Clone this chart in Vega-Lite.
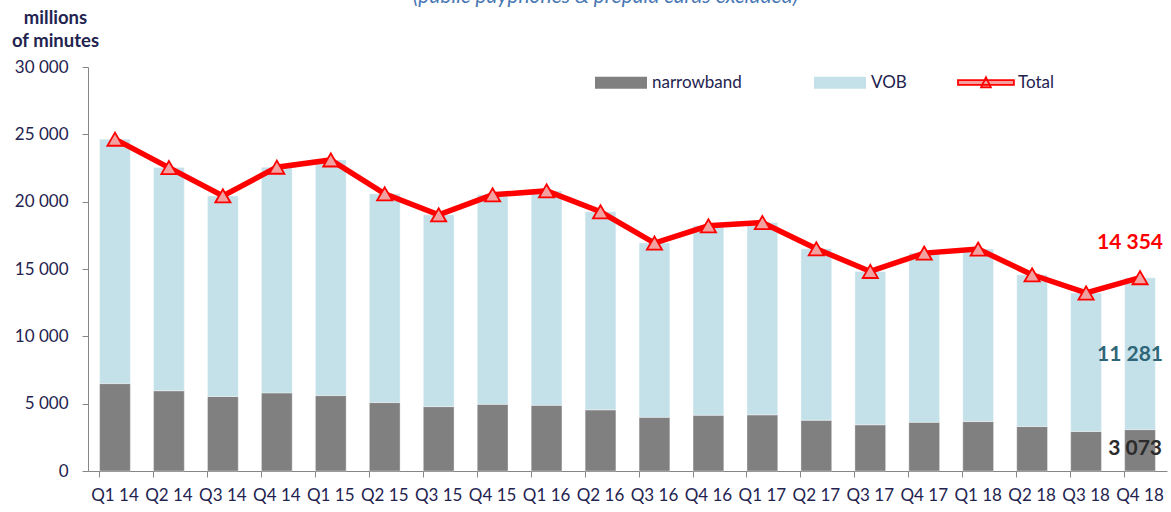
{
  "$schema": "https://vega.github.io/schema/vega-lite/v6.json",
  "width": 1079,
  "height": 404,
  "autosize": {"type": "none"},
  "padding": {"left": 88, "top": 67, "right": 4, "bottom": 41},
  "background": "white",
  "config": {
    "view": {"stroke": null},
    "font": "Lato",
    "locale": {"number": {"decimal": ".", "thousands": " ", "grouping": [3], "currency": ["", ""]}},
    "axis": {"labelFont": "Lato", "titleFont": "Lato"}
  },
  "title": {
    "text": "(public payphones & prepaid cards excluded)",
    "font": "Lato",
    "fontStyle": "italic",
    "fontWeight": "normal",
    "fontSize": 21,
    "color": "#4a78b4",
    "anchor": "middle",
    "dx": -22,
    "dy": 3,
    "offset": 4
  },
  "data": {
    "values": [
      {"q": "Q1 14", "narrowband": 6490, "VOB": 18150, "total": 24640},
      {"q": "Q2 14", "narrowband": 5960, "VOB": 16570, "total": 22530},
      {"q": "Q3 14", "narrowband": 5530, "VOB": 14900, "total": 20430},
      {"q": "Q4 14", "narrowband": 5800, "VOB": 16760, "total": 22560},
      {"q": "Q1 15", "narrowband": 5600, "VOB": 17500, "total": 23100},
      {"q": "Q2 15", "narrowband": 5080, "VOB": 15500, "total": 20580},
      {"q": "Q3 15", "narrowband": 4780, "VOB": 14240, "total": 19020},
      {"q": "Q4 15", "narrowband": 4950, "VOB": 15560, "total": 20510},
      {"q": "Q1 16", "narrowband": 4880, "VOB": 15920, "total": 20800},
      {"q": "Q2 16", "narrowband": 4540, "VOB": 14710, "total": 19250},
      {"q": "Q3 16", "narrowband": 3990, "VOB": 12940, "total": 16930},
      {"q": "Q4 16", "narrowband": 4140, "VOB": 14070, "total": 18210},
      {"q": "Q1 17", "narrowband": 4170, "VOB": 14280, "total": 18450},
      {"q": "Q2 17", "narrowband": 3770, "VOB": 12730, "total": 16500},
      {"q": "Q3 17", "narrowband": 3430, "VOB": 11390, "total": 14820},
      {"q": "Q4 17", "narrowband": 3620, "VOB": 12560, "total": 16180},
      {"q": "Q1 18", "narrowband": 3670, "VOB": 12810, "total": 16480},
      {"q": "Q2 18", "narrowband": 3300, "VOB": 11270, "total": 14570},
      {"q": "Q3 18", "narrowband": 2930, "VOB": 10290, "total": 13220},
      {"q": "Q4 18", "narrowband": 3073, "VOB": 11281, "total": 14354}
    ]
  },
  "layer": [
    {
      "transform": [{"fold": ["narrowband", "VOB"], "as": ["series", "value"]}],
      "mark": {"type": "bar", "stroke": "#ffffff", "strokeWidth": 0.6, "strokeOpacity": 0.6},
      "encoding": {
        "x": {
          "field": "q", "type": "ordinal", "sort": null,
          "scale": {"paddingInner": 0.43, "paddingOuter": 0.215},
          "axis": {
            "title": null, "labelAngle": 0, "labelFontSize": 17, "labelColor": "#23234f",
            "labelPadding": 10, "domainColor": "#868686", "tickColor": "#868686",
            "tickSize": 6, "bandPosition": 0, "grid": false
          }
        },
        "y": {
          "field": "value", "type": "quantitative", "stack": "zero",
          "scale": {"domain": [0, 30000]},
          "axis": {
            "values": [0, 5000, 10000, 15000, 20000, 25000, 30000],
            "format": ",d", "grid": false,
            "domainColor": "#868686", "tickColor": "#868686", "tickSize": 6,
            "labelFontSize": 17, "labelColor": "#23234f", "labelPadding": 14,
            "title": ["millions", "of minutes"], "titleAngle": 0,
            "titleX": -33, "titleY": -59, "titleAlign": "center", "titleBaseline": "top",
            "titleFontSize": 18.5, "titleFontWeight": "bold", "titleColor": "#23234f",
            "titleLineHeight": 23
          }
        },
        "color": {
          "field": "series", "type": "nominal",
          "scale": {"domain": ["narrowband", "VOB"], "range": ["#808080", "#c4e1ea"]},
          "legend": {
            "orient": "none", "legendX": 505, "legendY": 7,
            "direction": "horizontal", "columns": 2, "columnPadding": 70,
            "title": null, "padding": 0, "symbolSize": 169, "labelOffset": 42,
            "symbolType": "M-1,-0.92H7V0.92H-1Z", "symbolStrokeWidth": 0,
            "labelFontSize": 17, "labelColor": "#23234f", "labelFont": "Lato"
          }
        },
        "order": {"field": "series", "sort": "descending"}
      }
    },
    {
      "mark": {"type": "line", "color": "#ff0000", "strokeWidth": 5.5},
      "encoding": {
        "x": {"field": "q", "type": "ordinal", "sort": null},
        "y": {"field": "total", "type": "quantitative"}
      }
    },
    {
      "mark": {"type": "point", "shape": "triangle-up", "filled": true, "stroke": "#ff0000", "strokeWidth": 1.8, "size": 230, "opacity": 1},
      "encoding": {
        "x": {"field": "q", "type": "ordinal", "sort": null},
        "y": {"field": "total", "type": "quantitative"},
        "fill": {
          "datum": "Total",
          "scale": {"domain": ["Total"], "range": ["#f2a0a0"]},
          "legend": {
            "orient": "none", "legendX": 868, "legendY": 7,
            "title": null, "padding": 0, "symbolSize": 169, "labelOffset": 45,
            "symbolType": "M-1,-0.36H7.6V0.36H-1Z M2.55,0.75L3.3,-0.8L4.05,0.75Z",
            "symbolStrokeColor": "#ff0000", "symbolStrokeWidth": 1.8, "symbolOpacity": 1,
            "labelFontSize": 17, "labelColor": "#23234f", "labelFont": "Lato"
          }
        }
      }
    },
    {
      "transform": [{"filter": "datum.q === 'Q4 18'"}],
      "mark": {"type": "text", "align": "right", "baseline": "middle", "dx": 23, "dy": -35, "fontSize": 21, "fontWeight": "bold", "color": "#ff0000", "font": "Lato"},
      "encoding": {
        "x": {"field": "q", "type": "ordinal", "sort": null},
        "y": {"field": "total", "type": "quantitative"},
        "text": {"field": "total", "type": "quantitative", "format": ",d"}
      }
    },
    {
      "transform": [{"filter": "datum.q === 'Q4 18'"}],
      "mark": {"type": "text", "align": "right", "baseline": "middle", "dx": 23, "dy": 36, "fontSize": 21, "fontWeight": "bold", "color": "#2e6677", "font": "Lato"},
      "encoding": {
        "x": {"field": "q", "type": "ordinal", "sort": null},
        "y": {"field": "VOB", "type": "quantitative"},
        "text": {"field": "VOB", "type": "quantitative", "format": ",d"}
      }
    },
    {
      "transform": [{"filter": "datum.q === 'Q4 18'"}],
      "mark": {"type": "text", "align": "right", "baseline": "middle", "dx": 22, "dy": 19, "fontSize": 21, "fontWeight": "bold", "color": "#2b2b2b", "font": "Lato"},
      "encoding": {
        "x": {"field": "q", "type": "ordinal", "sort": null},
        "y": {"field": "narrowband", "type": "quantitative"},
        "text": {"field": "narrowband", "type": "quantitative", "format": ",d"}
      }
    }
  ]
}
